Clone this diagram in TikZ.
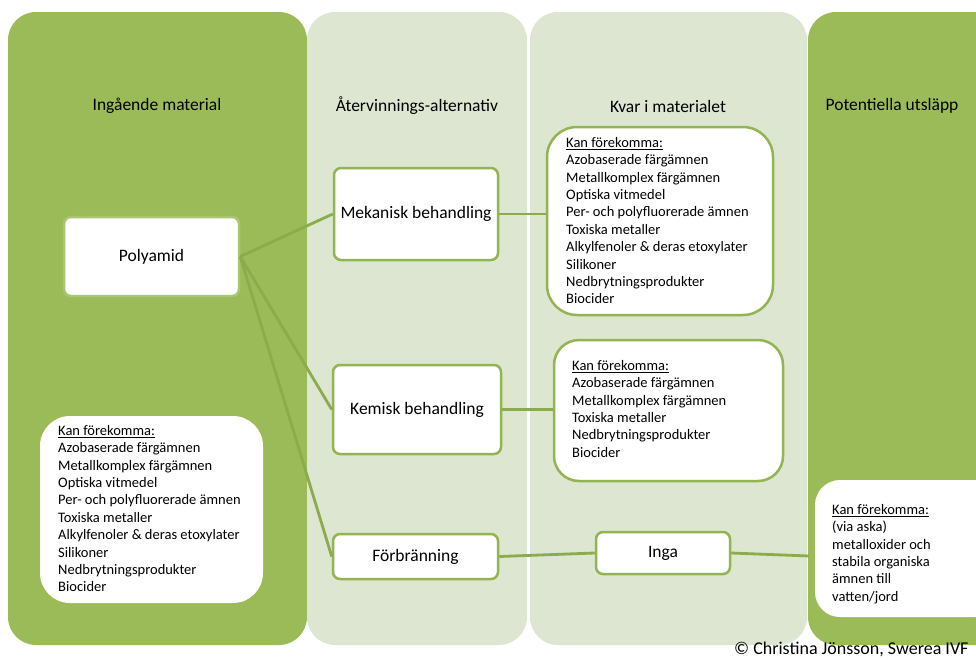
\documentclass[tikz,border=0pt]{standalone}
\usepackage{fontspec}
\setmainfont{Carlito}
\definecolor{dkg}{HTML}{9BBB59}
\definecolor{ltg}{HTML}{DDE6D0}
\definecolor{lnk}{HTML}{8AAC4C}
\definecolor{bdr}{HTML}{92B451}
\definecolor{pbdr}{HTML}{A9C673}
\begin{document}
\begin{tikzpicture}[x=1pt,y=-1pt,
  col/.style={rectangle,rounded corners=28pt,inner sep=0,outer sep=0,draw=none},
  hdr/.style={font=\fontsize{17.5}{21}\selectfont,inner sep=0},
  box/.style={rectangle,rounded corners=7pt,fill=white,draw=bdr,line width=2.5pt,inner sep=0,font=\fontsize{17.5}{21}\selectfont},
  lbox/.style={rectangle,fill=white,inner sep=0},
  ltext/.style={align=left,inner sep=0,anchor=north west,font=\fontsize{14.5}{17.4}\selectfont},
  conn/.style={draw=lnk,line width=2.8pt}]
\useasboundingbox (0,0) rectangle (976,659);
\clip (0,0) rectangle (976,659);
% columns
\node[col,fill=dkg,minimum width=299pt,minimum height=633pt] (c1) at (157.5,328.5) {};
\node[col,fill=ltg,minimum width=220pt,minimum height=633pt] (c2) at (417,328.5) {};
\node[col,fill=ltg,minimum width=277pt,minimum height=633pt] (c3) at (668.5,328.5) {};
\node[col,fill=dkg,minimum width=202pt,minimum height=633pt] (c4) at (909,328.5) {};
% headers
\node[hdr] (h1) at (157,106) {Ingående material};
\node[hdr] (h2) at (417,106) {Återvinnings-alternativ};
\node[hdr] (h3) at (668,106) {Kvar i materialet};
\node[hdr] (h4) at (892,106) {Potentiella utsläpp};
% list boxes
\node[lbox,rounded corners=30pt,minimum width=223pt,minimum height=187pt] (lb) at (151.5,509.5) {};
\node[ltext] (lbt) at (58,425) {\underline{Kan förekomma:}\\Azobaserade färgämnen\\Metallkomplex färgämnen\\Optiska vitmedel\\Per- och polyfluorerade ämnen\\Toxiska metaller\\Alkylfenoler \& deras etoxylater\\Silikoner\\Nedbrytningsprodukter\\Biocider};
\node[lbox,draw=bdr,line width=2.5pt,rounded corners=30pt,minimum width=226pt,minimum height=188pt] (k1) at (660,221) {};
\node[ltext] (k1t) at (566,137) {\underline{Kan förekomma:}\\Azobaserade färgämnen\\Metallkomplex färgämnen\\Optiska vitmedel\\Per- och polyfluorerade ämnen\\Toxiska metaller\\Alkylfenoler \& deras etoxylater\\Silikoner\\Nedbrytningsprodukter\\Biocider};
\node[lbox,draw=bdr,line width=2.5pt,rounded corners=25pt,minimum width=229pt,minimum height=141pt] (k2) at (668.5,410.5) {};
\node[ltext] (k2t) at (572,360) {\underline{Kan förekomma:}\\Azobaserade färgämnen\\Metallkomplex färgämnen\\Toxiska metaller\\Nedbrytningsprodukter\\Biocider};
\node[lbox,rounded corners=25pt,minimum width=185pt,minimum height=137pt] (rb) at (907.5,548.5) {};
\node[ltext] (rbt) at (832,504) {\underline{Kan förekomma:}\\(via aska)\\metalloxider och\\stabila organiska\\ämnen till\\vatten/jord};
% process boxes
\node[box,draw=pbdr,minimum width=175pt,minimum height=79pt] (poly) at (151.5,256.5) {Polyamid};
\node[box,minimum width=164pt,minimum height=92pt] (mek) at (416,214) {Mekanisk behandling};
\node[box,minimum width=168pt,minimum height=89pt] (kem) at (417,409.5) {Kemisk behandling};
\node[box,minimum width=165pt,minimum height=45pt] (forb) at (415.5,556.5) {Förbränning};
\node[box,minimum width=134pt,minimum height=42pt] (inga) at (663,553) {Inga};
\coordinate (u) at (809,556);
% connectors
\draw[conn] (poly.east) -- (mek.west);
\draw[conn] (poly.east) -- (kem.west);
\draw[conn] (poly.east) -- (forb.west);
\draw[conn] (mek.east) -- (mek.east -| k1.west);
\draw[conn] (kem.east) -- (kem.east -| k2.west);
\draw[conn] (forb.east) -- (inga.west);
\draw[conn] (inga.east) -- (u);
% credit
\node[anchor=base west,inner sep=0,font=\fontsize{18}{22}\selectfont] (cr) at (734,654) {© Christina Jönsson, Swerea IVF};
\end{tikzpicture}
\end{document}
